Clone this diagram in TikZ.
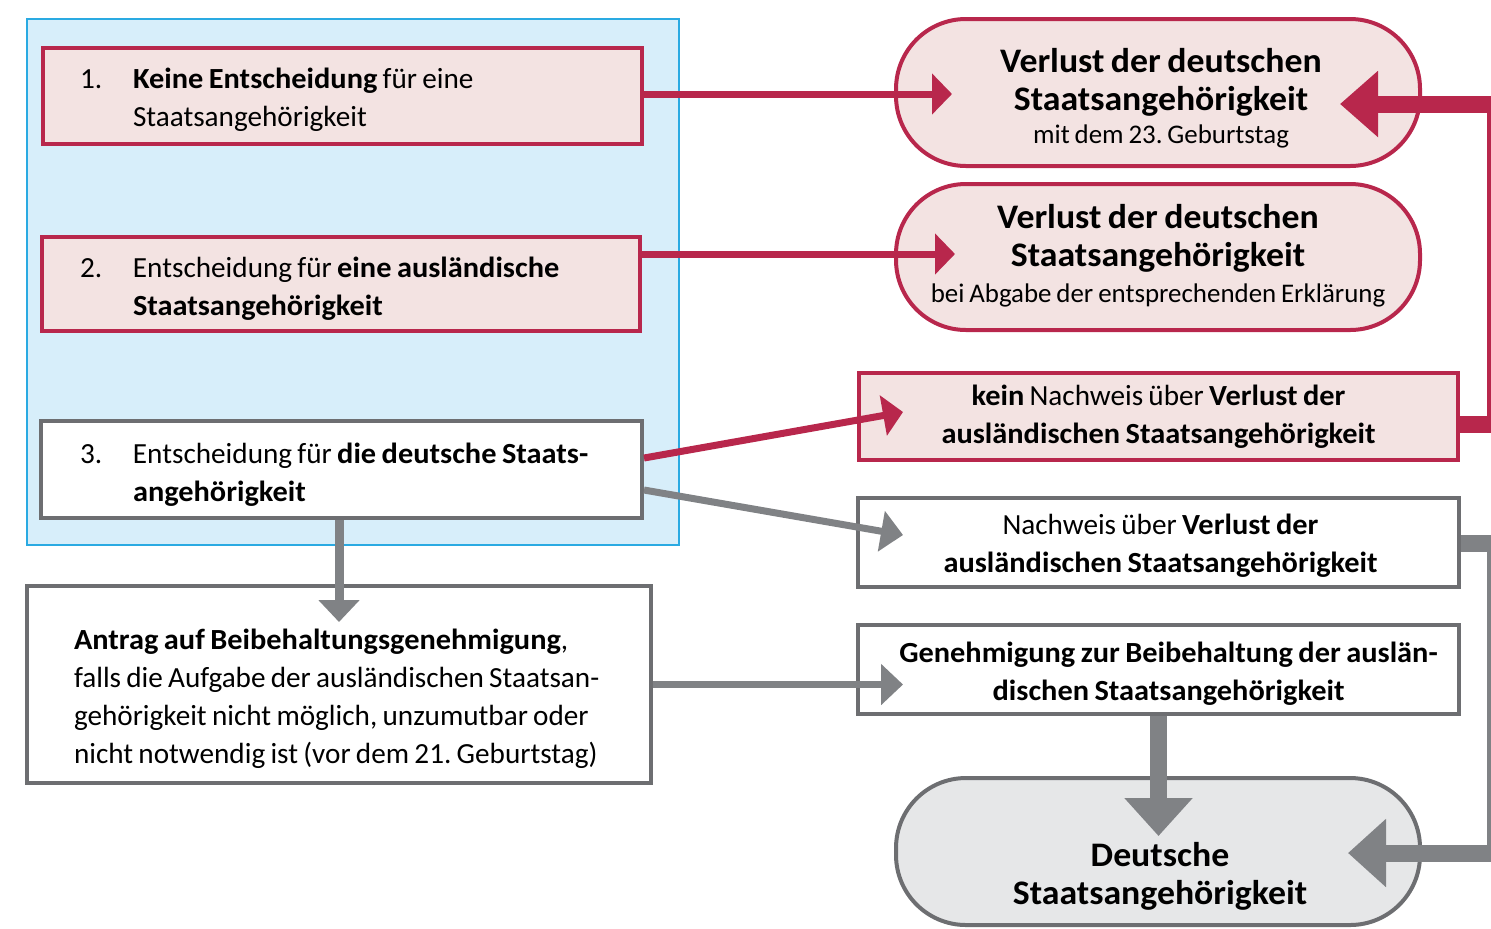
\documentclass[tikz,border=0pt]{standalone}
\usepackage{fontspec}
\setmainfont{Carlito}[WordSpace=0.8, BoldFeatures={FakeStretch=1.04}]
\usetikzlibrary{arrows.meta}
\frenchspacing
\definecolor{dred}{HTML}{B8274C}
\definecolor{pinkf}{HTML}{F3E3E2}
\definecolor{gline}{HTML}{6D6E71}
\definecolor{garrow}{HTML}{808285}
\definecolor{bluef}{HTML}{D7EEFA}
\definecolor{blueb}{HTML}{2AAAE2}
\definecolor{grayf}{HTML}{E6E7E8}
\tikzset{
  box/.style={rectangle, line width=2pt, inner sep=0pt, font=\fontsize{14.6}{19}\selectfont\frenchspacing},
  redbox/.style={box, draw=dred, fill=pinkf},
  graybox/.style={box, draw=gline, fill=white},
  pill/.style={rectangle, rounded corners=35pt, line width=2pt, inner sep=0pt, minimum width=262pt, minimum height=73.5pt, font=\fontsize{17.2}{19}\selectfont\bfseries\frenchspacing},
  redpill/.style={pill, draw=dred, fill=pinkf},
  graypill/.style={pill, draw=gline, fill=grayf},
  redarrow/.style={draw=dred, line width=3.5pt, -{Triangle[length=10pt,width=20pt]}},
  grayarrow/.style={draw=garrow, line width=3.5pt, -{Triangle[length=11pt,width=20pt]}},
  redthick/.style={draw=dred, line width=8.5pt, line join=miter, -{Triangle[length=19pt,width=32pt]}},
  graythick/.style={draw=garrow, line width=8.5pt, line join=miter, -{Triangle[length=19pt,width=33pt]}}
}
\newcommand{\sublinefont}{\fontsize{13.45}{18.5}\selectfont\mdseries}
% text block: #1 x shift, #2 y shift, #3 column spec, #4 rows
\newcommand{\tc}[4]{\hspace*{#1}\raisebox{#2}[0pt][0pt]{\begin{tabular}{@{}#3@{}}#4\end{tabular}}\hspace*{-#1}}
\begin{document}
\begin{tikzpicture}[x=0.5pt,y=-0.5pt]
\useasboundingbox (0,0) rectangle (1491,928);
\clip (0,0) rectangle (1491,928);
% blue background group
\node[rectangle, draw=blueb, fill=bluef, line width=1pt, minimum width=326pt, minimum height=263pt, inner sep=0pt] (grp) at (353,282) {};
% left boxes
\node[redbox, minimum width=299.5pt, minimum height=48pt] (b1) at (342.5,96)
  {\tc{0pt}{-5.6pt}{p{26.5pt}@{}p{236pt}}{1. & \textbf{Keine Entscheidung} für eine\\ & Staatsangehörigkeit}};
\node[redbox, minimum width=299pt, minimum height=47pt] (b2) at (341,284)
  {\tc{0pt}{-5.8pt}{p{26.5pt}@{}p{234.5pt}}{2. & Entscheidung für \textbf{eine ausländische}\\ & \textbf{Staatsangehörigkeit}}};
\node[graybox, minimum width=300.5pt, minimum height=48.5pt] (b3) at (341.5,469.5)
  {\tc{0pt}{-6.3pt}{p{26.5pt}@{}p{235pt}}{3. & Entscheidung für \textbf{die deutsche Staats-}\\ & \textbf{angehörigkeit}}};
\node[graybox, minimum width=312pt, minimum height=98.5pt] (an) at (339,684.5)
  {\tc{0pt}{-10.8pt}{p{265pt}}{\textbf{Antrag auf Beibehaltungsgenehmigung},\\falls die Aufgabe der ausländischen Staatsan-\\gehörigkeit nicht möglich, unzumutbar oder\\nicht notwendig ist (vor dem 21. Geburtstag)}};
% right nodes
\node[redpill] (r1) at (1158,92.5)
  {\tc{1.5pt}{-8.3pt}{c}{Verlust der deutschen\\Staatsangehörigkeit\\[-2.5pt]{\sublinefont mit dem 23. Geburtstag}}};
\node[redpill, minimum height=73pt] (r2) at (1158,257)
  {\tc{0pt}{-4.6pt}{c}{Verlust der deutschen\\Staatsangehörigkeit\\[-1pt]{\sublinefont bei Abgabe der entsprechenden Erklärung}}};
\node[redbox, minimum width=299.5pt, minimum height=43.5pt] (r3) at (1158.5,416.5)
  {\tc{0pt}{-3.8pt}{c}{\textbf{kein} Nachweis über \textbf{Verlust der}\\\textbf{ausländischen Staatsangehörigkeit}}};
\node[graybox, minimum width=300.5pt, minimum height=44.5pt] (r4) at (1158.5,542.5)
  {\tc{1pt}{-5.3pt}{c}{Nachweis über \textbf{Verlust der}\\\textbf{ausländischen Staatsangehörigkeit}}};
\node[graybox, minimum width=300.5pt, minimum height=44.5pt] (r5) at (1158.5,669.5)
  {\tc{5pt}{-5.8pt}{c}{\textbf{Genehmigung zur Beibehaltung der auslän-}\\\textbf{dischen Staatsangehörigkeit}}};
\node[graypill] (r6) at (1158,851.5)
  {\tc{1pt}{-17.3pt}{c}{Deutsche\\Staatsangehörigkeit}};
% connector end points
\coordinate (t1) at (952,94);
\coordinate (t2) at (955,254);
\coordinate (s3r) at (642,458);
\coordinate (t3r) at (903,412);
\coordinate (s3g) at (642,490);
\coordinate (t3g) at (903,535);
\coordinate (tb3) at (339,622);
\coordinate (tan) at (903,684.5);
\coordinate (t56) at (1158.5,836);
\coordinate (c3a) at (1495,424);
\coordinate (c3b) at (1495,104);
\coordinate (tr1) at (1340,104);
\coordinate (c4a) at (1495,543);
\coordinate (c4b) at (1495,853);
\coordinate (tr6) at (1348,853);
% connectors
\draw[redarrow] (b1.east |- t1) -- (t1);
\draw[redarrow] (b2.east |- t2) -- (t2);
\draw[redarrow] (b3.east |- s3r) -- (t3r);
\draw[grayarrow] (b3.east |- s3g) -- (t3g);
\draw[grayarrow, line width=4.5pt] (b3.south -| tb3) -- (tb3);
\draw[grayarrow] (an.east) -- (tan);
\draw[graythick] (r5.south) -- (t56);
\draw[redthick] (r3.east |- c3a) -- (c3a) -- (c3b) -- (tr1);
\draw[graythick] (r4.east |- c4a) -- (c4a) -- (c4b) -- (tr6);
\end{tikzpicture}
\end{document}
